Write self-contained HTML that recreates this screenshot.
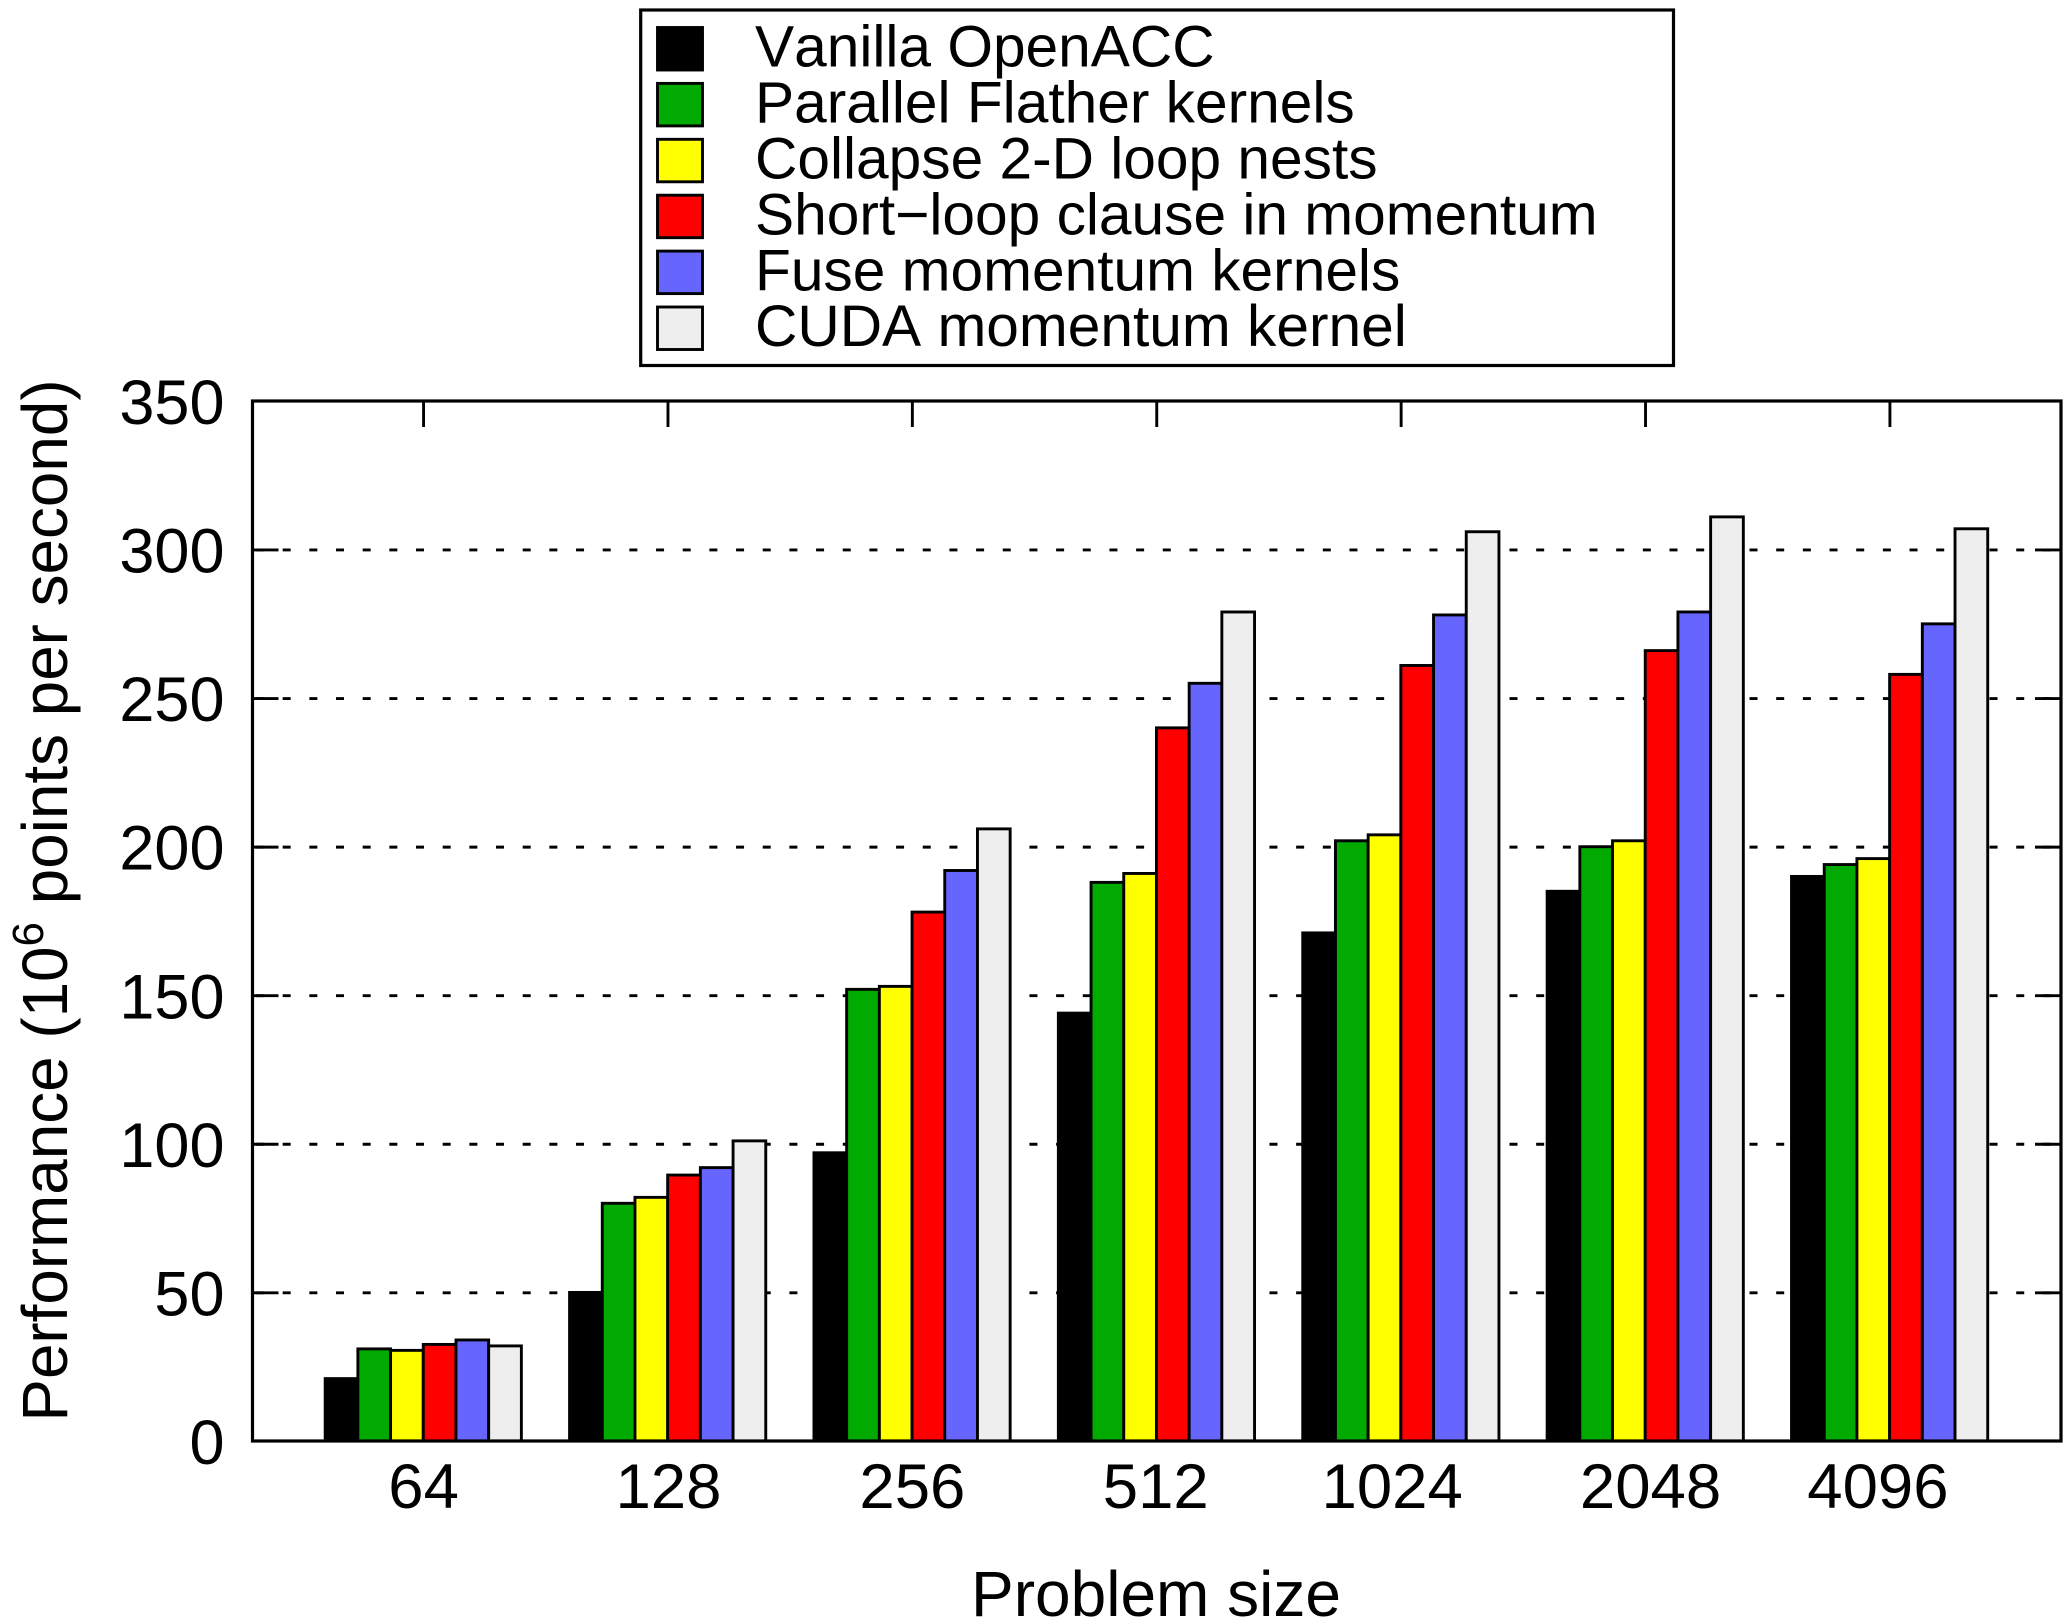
<!DOCTYPE html>
<html>
<head>
<meta charset="utf-8">
<title>Performance by problem size</title>
<style>
html,body{margin:0;padding:0;background:#fff;}
svg{display:block;}
text{font-family:"Liberation Sans",Arial,sans-serif;fill:#000;}
</style>
</head>
<body>
<svg id="chart" xmlns="http://www.w3.org/2000/svg" width="2067" height="1624" viewBox="0 0 2067 1624">
  <rect x="0" y="0" width="2067" height="1624" fill="#ffffff"/>
  <text transform="translate(67,900.5) rotate(-90)" text-anchor="middle" font-size="63.8">Performance (10<tspan font-size="44" dy="-24">6</tspan><tspan dy="24"> points per second)</tspan></text>
  <text x="1156" y="1616" text-anchor="middle" font-size="64">Problem size</text>
</svg>
<script>
var categories = ["64", "128", "256", "512", "1024", "2048", "4096"];
var seriesNames = ["Vanilla OpenACC", "Parallel Flather kernels", "Collapse 2-D loop nests", "Short\u2212loop clause in momentum", "Fuse momentum kernels", "CUDA momentum kernel"];
var seriesColors = ["#000000", "#00aa00", "#ffff00", "#ff0000", "#6666ff", "#eeeeee"];
var vanillaOpenacc = [21, 50, 97, 144, 171, 185, 190];
var parallelFlather = [31, 80, 152, 188, 202, 200, 194];
var collapseLoops = [30.5, 82, 153, 191, 204, 202, 196];
var shortLoop = [32.5, 89.5, 178, 240, 261, 266, 258];
var fuseMomentum = [34, 92, 192, 255, 278, 279, 275];
var cudaMomentum = [32, 101, 206, 279, 306, 311, 307];
var yTicks = [0, 50, 100, 150, 200, 250, 300, 350];

(function () {
  var svg = document.getElementById('chart');
  var NS = 'http://www.w3.org/2000/svg';
  var allSeries = [vanillaOpenacc, parallelFlather, collapseLoops, shortLoop, fuseMomentum, cudaMomentum];
  var L = 252.5, R = 2061, T = 401, B = 1441;
  var xMin = -0.7, xMax = categories.length - 1 + 0.7, yMax = 350;
  function xScale(i) { return L + (i - xMin) / (xMax - xMin) * (R - L); }
  function yScale(v) { return B - v / yMax * (B - T); }
  function make(tag, attrs) {
    var e = document.createElementNS(NS, tag);
    for (var k in attrs) { e.setAttribute(k, attrs[k]); }
    svg.appendChild(e);
    return e;
  }
  var tickLen = 26, lw = 3.2, thin = 2.9;
  var barW = 32.7;
  var labelNudge = [0, 0.5, 0, -1, -9, 5, -12];

  yTicks.forEach(function (t) {
    var y = yScale(t) + 0.4;
    if (t !== 0 && t !== yMax) {
      var grid = make('line', {x1: L, y1: y, x2: R, y2: y, stroke: '#000', 'stroke-width': thin, 'stroke-dasharray': '8 18.67', 'stroke-dashoffset': -3.5});
      
      
      var tl = make('line', {x1: L, y1: y, x2: L + tickLen, y2: y, stroke: '#000', 'stroke-width': thin});
      
      
      var tr = make('line', {x1: R - tickLen, y1: y, x2: R, y2: y, stroke: '#000', 'stroke-width': thin});
      
      
    }
    var lab = make('text', {x: 224.5, y: yScale(t) + 23, 'text-anchor': 'end', 'font-size': 63});
    lab.textContent = String(t);
    
    
  });

  categories.forEach(function (c, i) {
    var x = xScale(i);
    var tt = make('line', {x1: x, y1: T, x2: x, y2: T + tickLen, stroke: '#000', 'stroke-width': thin});
    
    
    var tb = make('line', {x1: x, y1: B - tickLen, x2: x, y2: B, stroke: '#000', 'stroke-width': thin});
    
    
    var lab = make('text', {x: x + labelNudge[i], y: 1508, 'text-anchor': 'middle', 'font-size': 63.5});
    lab.textContent = c;
    
    
  });

  allSeries.forEach(function (vals, s) {
    vals.forEach(function (v, i) {
      var bx = xScale(i) + (s - 3) * barW - 0.3;
      var by = yScale(v);
      var bar = make('rect', {x: bx, y: by, width: barW, height: B - by, fill: seriesColors[s], stroke: '#000', 'stroke-width': thin});
      
      
    });
  });

  var frame = make('rect', {x: L, y: T, width: R - L, height: B - T, fill: 'none', stroke: '#000', 'stroke-width': lw});
  
  

  var box = make('rect', {x: 640.7, y: 10, width: 1032.8, height: 355.5, fill: '#fff', stroke: '#000', 'stroke-width': lw});
  
  

  seriesNames.forEach(function (n, s) {
    var top = 27.5 + s * 55.9;
    var sw = make('rect', {x: 657.5, y: top, width: 45, height: 42.5, fill: seriesColors[s], stroke: '#000', 'stroke-width': thin});
    
    
    var t = make('text', {x: 755, y: 66.7 + s * 55.9, 'font-size': 58.65});
    t.style.fontKerning = (s === 0 || s === 5) ? 'none' : 'auto';
    t.textContent = n;
    
    
  });
})();
</script>
</body>
</html>
